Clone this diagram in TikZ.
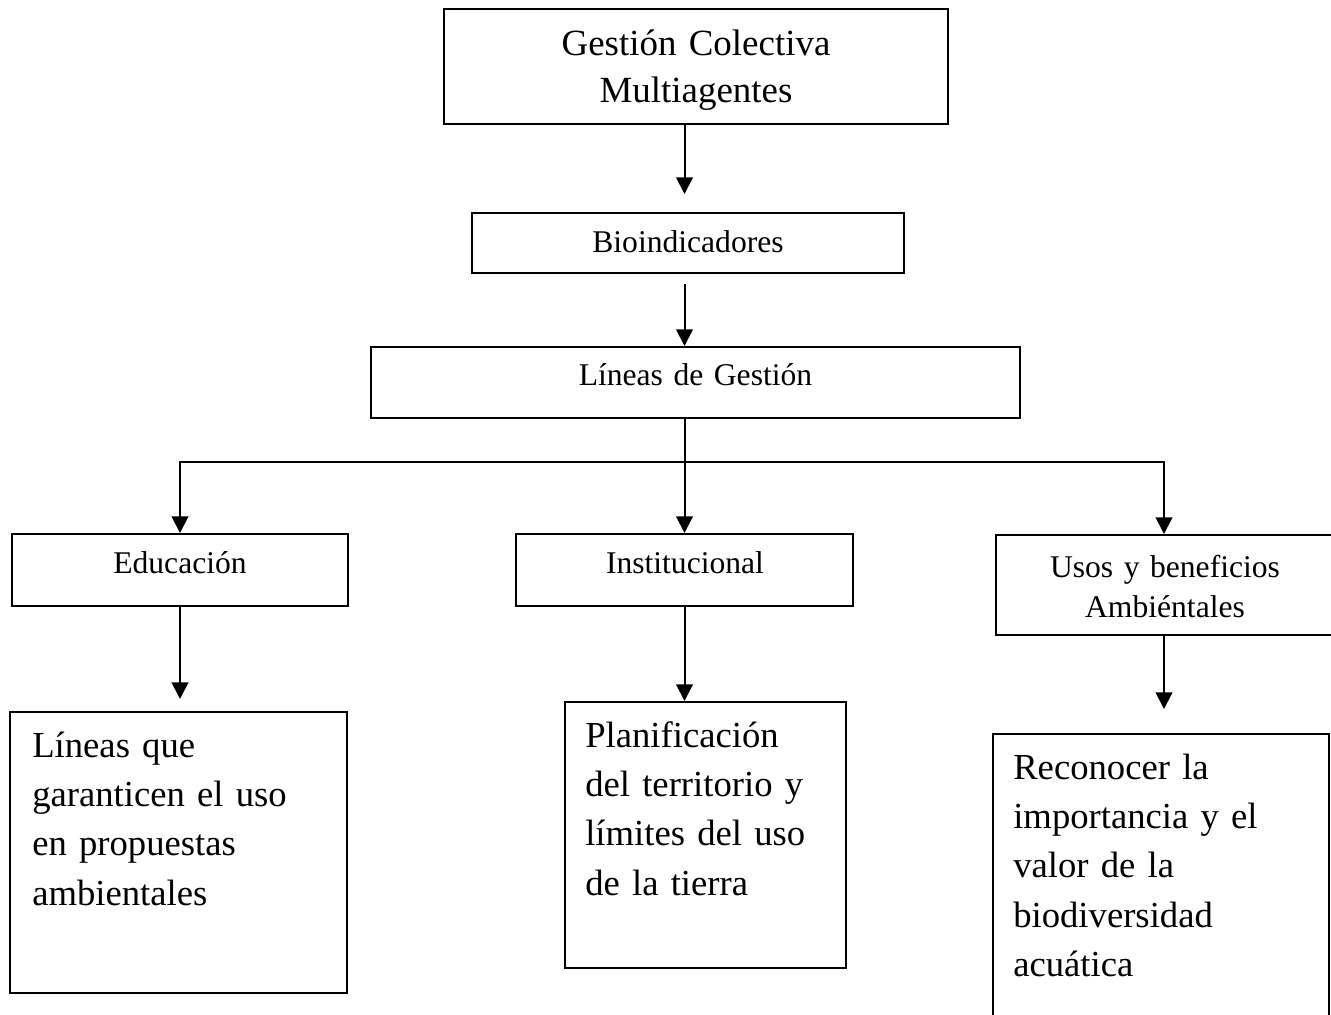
\documentclass[tikz,border=0pt]{standalone}
\usepackage{fontspec}
\setmainfont{Liberation Serif}
\usetikzlibrary{arrows.meta}
\begin{document}
\begin{tikzpicture}[x=0.75pt,y=-0.75pt,
  box/.style={draw=black,line width=1.5pt,rectangle,inner sep=0pt,fill=none},
  arr/.style={line width=1.5pt,-{Triangle[width=12.5pt,length=12.5pt]}},
  conn/.style={line width=1.5pt},
  small/.style={inner sep=0pt,text width=300pt,align=center,anchor=base,
    font=\fontsize{23.7pt}{30pt}\selectfont},
  bigc/.style={inner sep=0pt,text width=400pt,align=center,anchor=base,
    font=\fontsize{27.7pt}{35.25pt}\selectfont},
  bigl/.style={inner sep=0pt,text width=240pt,align=left,anchor=base west,
    font=\fontsize{27.5pt}{37.1pt}\selectfont}]
\useasboundingbox (0,0) rectangle (1331,1014);
\clip (0,0) rectangle (1331,1014);
\fill[white] (0,0) rectangle (1331,1014);

% boxes
\node[box,minimum width=378pt,minimum height=86.25pt] (top) at (696,66.5) {};
\node[box,minimum width=324pt,minimum height=45pt] (bio) at (688,243) {};
\node[box,minimum width=486.75pt,minimum height=53.25pt] (lin) at (695.5,382.5) {};
\node[box,minimum width=252pt,minimum height=54pt] (edu) at (180,570) {};
\node[box,minimum width=252.75pt,minimum height=54pt] (ins) at (684.5,570) {};
\node[box,minimum width=252pt,minimum height=75pt] (uso) at (1164,585) {};
\node[box,minimum width=252.75pt,minimum height=210.75pt] (ll) at (178.5,852.5) {};
\node[box,minimum width=210.75pt,minimum height=199.5pt] (pl) at (705.5,835) {};
\node[box,minimum width=252pt,minimum height=222pt] (rc) at (1161,882) {};

% texts
\node[bigc] (topT) at (696,55) {Gestión Colectiva\\Multiagentes};
\node[small] (bioT) at (688,252) {Bioindicadores};
\node[small] (linT) at (695.5,385) {Líneas de Gestión};
\node[small] (eduT) at (180,573) {Educación};
\node[small] (insT) at (685,573) {Institucional};
\node[small] (usoT) at (1165,577) {Usos y beneficios\\Ambiéntales};
\node[bigl] (llT) at (32,757) {Líneas que\\garanticen el uso\\en propuestas\\ambientales};
\node[bigl] (plT) at (585,747) {Planificación\\del territorio y\\límites del uso\\de la tierra};
\node[bigl] (rcT) at (1013,779) {Reconocer la\\importancia y el\\valor de la\\biodiversidad\\acuática};

% connectors
\coordinate (hub) at (684.5,462);
\draw[arr,shorten >=13.5pt] (top.south -| ins.north) -- (bio.north -| ins.north);
\draw[arr,shorten <=7.5pt] (bio.south -| ins.north) -- (lin.north -| ins.north);
\draw[conn] (lin.south -| hub) -- (hub);
\draw[arr] (hub) -| (edu.north);
\draw[arr] (hub) -| (uso.north);
\draw[arr] (hub) -- (ins.north);
\draw[arr,shorten >=9pt] (edu.south) -- (ll.north -| edu.south);
\draw[arr] (ins.south) -- (pl.north -| ins.south);
\draw[arr,shorten >=18pt] (uso.south) -- (rc.north -| uso.south);
\end{tikzpicture}
\end{document}
